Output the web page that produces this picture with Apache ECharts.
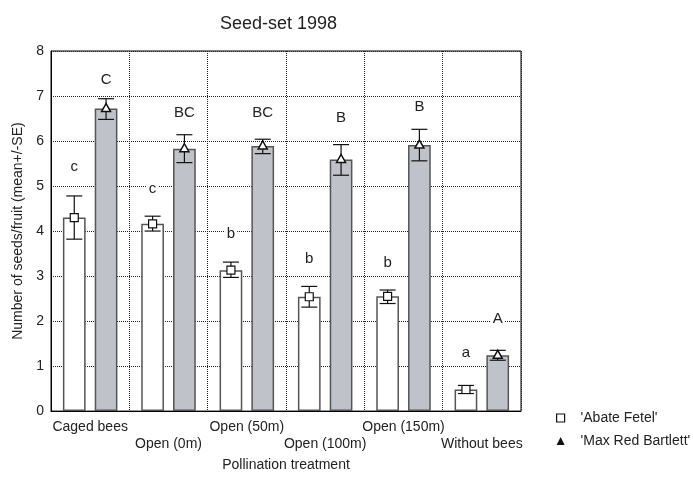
<!DOCTYPE html>
<html><head><meta charset="utf-8">
<script src="https://cdn.jsdelivr.net/npm/echarts@6/dist/echarts.min.js"></script>
<style>html,body{margin:0;padding:0;background:#fff}#c{width:693px;height:477px}</style>
</head><body><div id="c"></div>
<script>
var categories = ['Caged bees','Open (0m)','Open (50m)','Open (100m)','Open (150m)','Without bees'];
var abateMean = [4.30, 4.16, 3.13, 2.54, 2.55, 0.48];
var abateLow  = [3.82, 4.00, 2.97, 2.31, 2.39, 0.39];
var abateHigh = [4.78, 4.33, 3.31, 2.77, 2.69, 0.57];
var maxMean = [6.72, 5.83, 5.89, 5.59, 5.91, 1.24];
var maxLow  = [6.48, 5.52, 5.72, 5.24, 5.56, 1.13];
var maxHigh = [6.94, 6.14, 6.04, 5.92, 6.26, 1.35];
var abateLetters = ['c','c','b','b','b','a'];
var abateLetterY = [5.42, 4.93, 3.94, 3.39, 3.30, 1.30];
var maxLetters = ['C','BC','BC','B','B','A'];
var maxLetterY = [7.36, 6.62, 6.62, 6.52, 6.76, 2.05];
var yTicks = [0,1,2,3,4,5,6,7,8];

var FONT = 'Liberation Sans, Arial, sans-serif';
var chart = echarts.init(document.getElementById('c'));

function errData(mean, lo, hi, ly) {
  return mean.map(function (m, i) { return [i, m, lo[i], hi[i], ly[i]]; });
}

function makeRender(side, letters) {
  return function (params, api) {
    var i = api.value(0), m = api.value(1), lo = api.value(2), hi = api.value(3), ly = api.value(4);
    var letter = letters[params.dataIndex];
    var band = api.size([1, 0])[0];
    var off = side * 0.203 * band;
    var pm = api.coord([i, m]), pl = api.coord([i, lo]), ph = api.coord([i, hi]), pt = api.coord([i, ly]);
    var x = pm[0] + off;
    var cw = 8;
    var st = { stroke: '#111', lineWidth: 1.2, fill: null };
    var children = [
      { type: 'line', shape: { x1: x, y1: pl[1], x2: x, y2: ph[1] }, style: st },
      { type: 'line', shape: { x1: x - cw, y1: pl[1], x2: x + cw, y2: pl[1] }, style: st },
      { type: 'line', shape: { x1: x - cw, y1: ph[1], x2: x + cw, y2: ph[1] }, style: st }
    ];
    if (side < 0) {
      children.push({ type: 'rect', shape: { x: x - 4, y: pm[1] - 4, width: 8, height: 8 }, style: { fill: '#fff', stroke: '#111', lineWidth: 1.2 } });
    } else {
      children.push({ type: 'polygon', shape: { points: [[x, pm[1] - 5], [x - 4.5, pm[1] + 3], [x + 4.5, pm[1] + 3]] }, style: { fill: '#fff', stroke: '#111', lineWidth: 1.5 } });
    }
    children.push({ type: 'text', x: x, y: pt[1], style: { text: letter, fill: '#222', font: '15px ' + FONT, align: 'center', verticalAlign: 'middle', backgroundColor: '#fff', padding: [0, 2] } });
    return { type: 'group', children: children };
  };
}

chart.setOption({
  animation: false,
  title: { text: 'Seed-set 1998', left: 215, top: 10, textStyle: { fontFamily: FONT, fontSize: 18, fontWeight: 'normal', color: '#222' } },
  grid: { left: 51, width: 470, top: 51, height: 363, show: true, borderColor: '#000', borderWidth: 1, backgroundColor: 'transparent' },
  legend: {
    orient: 'vertical', left: 551, top: 406, itemWidth: 8, itemHeight: 8, itemGap: 9,
    textStyle: { fontFamily: FONT, fontSize: 14, color: '#222', padding: [0, 0, 0, 11] },
    data: [
      { name: "'Abate Fetel'", icon: 'rect', itemStyle: { color: '#fff', borderColor: '#111', borderWidth: 1.2 } },
      { name: "'Max Red Bartlett'", icon: 'triangle', itemStyle: { color: '#111', borderColor: '#111', borderWidth: 0 } }
    ]
  },
  xAxis: {
    type: 'category', data: categories,
    name: 'Pollination treatment', nameLocation: 'middle', nameGap: 46,
    nameTextStyle: { fontFamily: FONT, fontSize: 14, color: '#222' },
    axisLine: { lineStyle: { color: '#000', width: 1 } },
    axisTick: { show: false },
    axisLabel: { interval: 0, margin: 8, fontFamily: FONT, fontSize: 14, color: '#222', lineHeight: 17,
      formatter: function (v, i) { return i % 2 ? '\n' + v : v; } },
    splitLine: { show: true, interval: 0, lineStyle: { type: 'dotted', color: '#222', width: 1 } }
  },
  yAxis: {
    type: 'value', min: yTicks[0], max: yTicks[yTicks.length - 1], interval: 1,
    name: 'Number of seeds/fruit (mean+/-SE)', nameLocation: 'middle', nameGap: 26,
    nameTextStyle: { fontFamily: FONT, fontSize: 14, color: '#222' },
    axisLine: { show: true, lineStyle: { color: '#000', width: 1 } },
    axisTick: { show: false },
    axisLabel: { margin: 7, fontFamily: FONT, fontSize: 14, color: '#222' },
    splitLine: { show: true, lineStyle: { type: 'dotted', color: '#222', width: 1 } }
  },
  series: [
    { name: "'Abate Fetel'", type: 'bar', data: abateMean, barWidth: '29%', barGap: '40%',
      itemStyle: { color: '#fff', borderColor: '#555', borderWidth: 1.5 }, z: 2 },
    { name: "'Max Red Bartlett'", type: 'bar', data: maxMean, barWidth: '29%', barGap: '40%',
      itemStyle: { color: '#c0c2c9', borderColor: '#555', borderWidth: 1.5 }, z: 2 },
    { type: 'custom', renderItem: makeRender(-1, abateLetters), data: errData(abateMean, abateLow, abateHigh, abateLetterY), z: 5,
      encode: { x: 0, y: [1, 2, 3, 4] } },
    { type: 'custom', renderItem: makeRender(1, maxLetters), data: errData(maxMean, maxLow, maxHigh, maxLetterY), z: 5,
      encode: { x: 0, y: [1, 2, 3, 4] } }
  ]
});
</script>
</body></html>
